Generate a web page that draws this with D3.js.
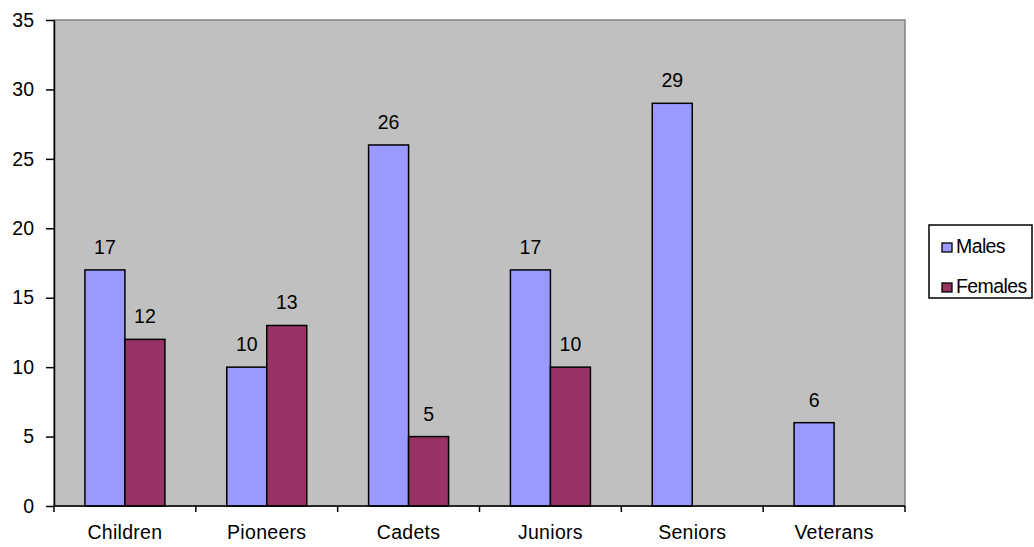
<!DOCTYPE html>
<html><head><meta charset="utf-8">
<script src="https://cdn.jsdelivr.net/npm/d3@7"></script>
<style>body{margin:0;background:#fff}svg{display:block;font-family:"Liberation Sans",Arial,sans-serif}</style>
</head><body>
<svg id="c" width="1034" height="547"></svg>
<script>
const categories = ["Children","Pioneers","Cadets","Juniors","Seniors","Veterans"];
const males = [17,10,26,17,29,6];
const females = [12,13,5,10,null,null];
const seriesNames = ["Males","Females"];
const yTicks = [0,5,10,15,20,25,30,35];

const colors = ["#9999ff","#993366"];
const FS = 19.5;
const svg = d3.select("#c");
const L=54,R=905,T=20,B=506;
const x = d3.scaleBand().domain(categories).range([L,R]).paddingInner(0).paddingOuter(0);
const y = d3.scaleLinear().domain([0,35]).range([B,T]);
const barW = 40;

svg.append("rect").attr("x",L).attr("y",T).attr("width",R-L).attr("height",B-T)
  .attr("fill","#c0c0c0").attr("stroke","#808080").attr("stroke-width",1.5);

const series=[males,females];
series.forEach((vals,si)=>{
  categories.forEach((c,i)=>{
    const v=vals[i];
    if(v==null) return;
    const cx = x(c)+x.bandwidth()/2;
    const bx = cx - barW + si*barW;
    svg.append("rect").attr("x",bx).attr("y",y(v)).attr("width",barW).attr("height",B-y(v))
      .attr("fill",colors[si]).attr("stroke","#000").attr("stroke-width",1.5);
    svg.append("text").attr("x",bx+barW/2).attr("y",y(v)-16).attr("text-anchor","middle")
      .attr("font-size",FS).text(v);
  });
});

// y axis
const ya = svg.append("g").attr("transform",`translate(${L},0)`)
  .call(d3.axisLeft(y).tickValues(yTicks).tickSize(8).tickPadding(12).tickSizeOuter(0));
ya.select(".domain").attr("stroke","#000").attr("stroke-width",1.5);
ya.selectAll(".tick line").attr("stroke","#000").attr("stroke-width",1.5);
ya.selectAll("text").attr("font-size",FS).attr("fill","#000").attr("font-family","Liberation Sans, Arial, sans-serif");

// x axis
const xa = svg.append("g").attr("transform",`translate(0,${B})`);
xa.append("line").attr("x1",L).attr("x2",R).attr("y1",0).attr("y2",0).attr("stroke","#000").attr("stroke-width",1.5);
const edges = categories.map(c=>x(c)).concat([R]);
xa.selectAll(".t").data(edges).enter().append("line").attr("x1",d=>d).attr("x2",d=>d)
  .attr("y1",0).attr("y2",6).attr("stroke","#000").attr("stroke-width",1.5);
xa.selectAll(".l").data(categories).enter().append("text").attr("x",d=>x(d)+x.bandwidth()/2)
  .attr("y",33).attr("text-anchor","middle").attr("font-size",FS).attr("letter-spacing",0.3).text(d=>d);

// legend
const lg = svg.append("g");
lg.append("rect").attr("x",929).attr("y",225).attr("width",103).attr("height",73)
  .attr("fill","#fff").attr("stroke","#000").attr("stroke-width",1.5);
seriesNames.forEach((n,i)=>{
  const yy = 253 + i*40;
  lg.append("rect").attr("x",942).attr("y",yy-10).attr("width",10).attr("height",9)
    .attr("fill",colors[i]).attr("stroke","#000").attr("stroke-width",1.3);
  lg.append("text").attr("x",956).attr("y",yy).attr("font-size",FS).attr("letter-spacing",-0.6).text(n);
});
</script>
</body></html>
